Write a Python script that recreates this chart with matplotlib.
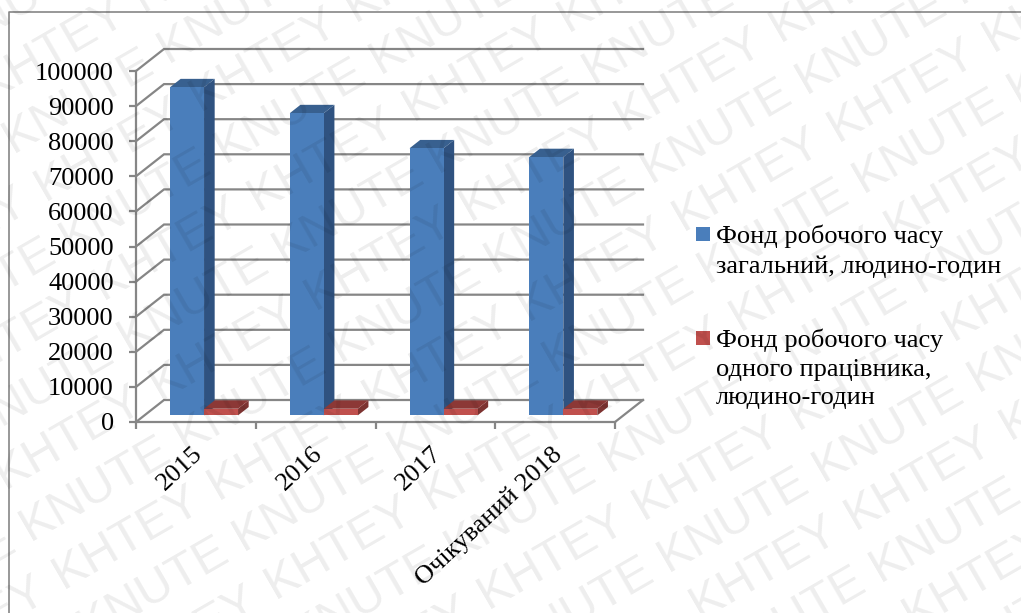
import math

import matplotlib
matplotlib.use("Agg")
import matplotlib.pyplot as plt
from matplotlib.lines import Line2D
from matplotlib.patches import Rectangle
from matplotlib.transforms import ScaledTranslation

# Data
years = ['2015', '2016', '2017', 'Очікуваний 2018']
fund_total = [93500, 86100, 76100, 73600]
fund_worker = [1900, 1900, 1900, 1900]
y_ticks = list(range(0, 100001, 10000))
series_names = ['Фонд робочого часу\nзагальний, людино-годин',
                'Фонд робочого часу\nодного працівника,\nлюдино-годин']
mark_words = ['KNUTE', 'KHTEY']

W, H = 1021, 613

# Oblique depth of the box, in axis units
DEPTH_X = 28 / 119.75
DEPTH_Y = 22 / 351 * 100000
BAR_NEAR = 0.30
BAR_FAR = 0.68
GAP = 0.214
BAR_W = 0.284

GRID = '#868686'
BLUE = ('#4a7ebb', '#2f5280', '#38608f')
RED = ('#c0504d', '#7d3331', '#8c3836')

plt.rcParams['font.family'] = ['Liberation Serif', 'DejaVu Serif']

fig = plt.figure(figsize=(W / 100, H / 100), dpi=100, facecolor='white')


def fx(px):
    return px / W


def fy(px):
    return 1 - px / H


ax = fig.add_axes([fx(136), fy(422), fx(615) - fx(136), fy(71) - fy(422)])
ax.set_xlim(0, 4)
ax.set_ylim(0, 100000)
ax.patch.set_visible(False)
for s in ['top', 'right']:
    ax.spines[s].set_visible(False)
for s in ['left', 'bottom']:
    ax.spines[s].set_color(GRID)
    ax.spines[s].set_linewidth(1.6)

# Back wall gridlines and the diagonals on the left wall
for v in y_ticks:
    ax.plot([0, DEPTH_X, 4 + DEPTH_X], [v, v + DEPTH_Y, v + DEPTH_Y],
            color=GRID, lw=1.6, clip_on=False, zorder=1, solid_joinstyle='miter')
ax.plot([4, 4 + DEPTH_X], [0, DEPTH_Y], color=GRID, lw=1.6, clip_on=False, zorder=1)


def draw_bar(x, value, colors, z):
    x0 = x + BAR_NEAR * DEPTH_X
    x1 = x0 + BAR_W
    y0 = BAR_NEAR * DEPTH_Y
    top = y0 + value
    ox = (BAR_FAR - BAR_NEAR) * DEPTH_X
    oy = (BAR_FAR - BAR_NEAR) * DEPTH_Y
    ax.bar(x0, value, BAR_W, bottom=y0, align='edge', color=colors[0],
           clip_on=False, zorder=z + 0.2)
    ax.fill([x1, x1 + ox, x1 + ox, x1], [y0, y0 + oy, top + oy, top],
            color=colors[1], lw=0, clip_on=False, zorder=z)
    ax.fill([x0, x1, x1 + ox, x0 + ox], [top, top, top + oy, top + oy],
            color=colors[2], lw=0, clip_on=False, zorder=z + 0.1)


for i in range(len(years)):
    draw_bar(i + GAP, fund_total[i], BLUE, 3)
    draw_bar(i + GAP + BAR_W, fund_worker[i], RED, 4)

# Axis ticks: marks on the category edges, labels in the middle
ax.set_yticks(y_ticks)
ax.set_xticks(range(len(years) + 1))
ax.set_xticklabels([])
ax.set_xticks([i + 0.5 for i in range(len(years))], minor=True)
ax.set_xticklabels(years, minor=True, rotation=43, ha='right', va='top',
                   rotation_mode='anchor', fontsize=19)
ax.tick_params(axis='y', length=5, width=1.6, color=GRID, pad=11, labelsize=19)
ax.tick_params(axis='x', which='major', length=5, width=1.6, color=GRID)
ax.tick_params(axis='x', which='minor', length=0, pad=15)
nudge = ScaledTranslation(-4 / 100, 0, fig.dpi_scale_trans)
for label in ax.get_xticklabels(minor=True):
    label.set_transform(label.get_transform() + nudge)

# Legend, laid out by hand so the swatch sits on the first text line
legend_colors = [BLUE[0], RED[0]]
legend_tops = [227, 331]
for name, c, y in zip(series_names, legend_colors, legend_tops):
    fig.add_artist(Rectangle((fx(696), fy(y + 14)), 14 / W, 14 / H, color=c,
                             transform=fig.transFigure, lw=0))
    fig.text(fx(716), fy(y - 2), name, fontsize=19, va='top', ha='left',
             linespacing=1.38, color='black')

# Frame around the chart area
fig.add_artist(Line2D([fx(9), fx(9), 1], [0, fy(12), fy(12)], color=GRID, lw=1.2))

# Diagonal watermark: each tilted row repeats one word, rows alternate
ANGLE = math.radians(30)
along = (math.cos(ANGLE), -math.sin(ANGLE))
across = (math.sin(ANGLE), math.cos(ANGLE))
WORD_STEP = 179
ROW_STEP = 57.5
for row in range(-18, 8):
    for n in range(-14, 15):
        dist = n * WORD_STEP + (row % 2) * 4
        x_px = 823 + dist * along[0] + row * ROW_STEP * across[0]
        y_px = 482 + dist * along[1] + row * ROW_STEP * across[1]
        if -160 < x_px < W and 0 < y_px < H + 90:
            fig.text(fx(x_px), fy(y_px), mark_words[row % 2], rotation=30,
                     rotation_mode='anchor', fontsize=35, family='Liberation Sans',
                     color='black', alpha=0.07, ha='left', va='baseline', zorder=20)

fig.savefig('out.png', dpi=100)
